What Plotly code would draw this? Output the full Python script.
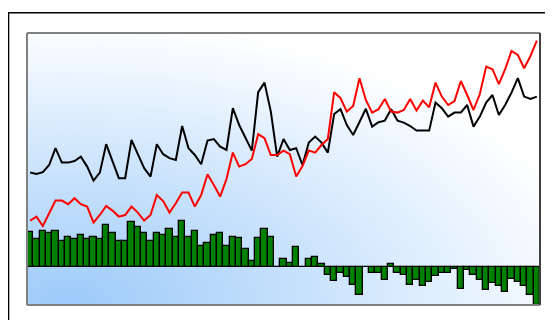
import base64
import plotly.graph_objects as go

# values (81 periods)
periods = list(range(81))

black_series = [
    47.2, 46.5, 47.4, 51.0, 59.4, 52.2, 52.2, 53.0, 55.2, 50.2,
    43.2, 47.2, 61.4, 52.7, 44.4, 44.4, 63.5, 56.4, 49.4, 45.2,
    61.4, 56.4, 54.4, 53.5, 70.5, 59.4, 56.0, 51.4, 63.2, 64.0,
    60.2, 58.5, 79.4, 71.0, 64.9, 58.2, 87.4, 92.2, 77.7, 55.2,
    64.0, 58.5, 59.4, 51.0, 62.2, 65.2, 62.2, 57.2, 76.5, 78.9,
    71.0, 66.0, 72.5, 79.1, 70.2, 72.4, 73.2, 78.9, 73.2, 72.2,
    70.5, 68.2, 68.2, 68.2, 82.2, 79.4, 75.2, 77.2, 77.2, 81.0,
    70.2, 75.2, 82.2, 86.0, 76.0, 81.0, 87.2, 94.4, 85.2, 84.0,
    85.2,
]

red_series = [
    23.2, 25.2, 20.5, 26.5, 33.2, 33.2, 31.4, 34.4, 31.4, 30.2,
    22.2, 26.0, 30.5, 28.2, 25.2, 26.0, 30.2, 27.2, 23.2, 26.0,
    36.0, 33.0, 27.2, 31.9, 37.2, 37.2, 30.2, 36.0, 46.4, 41.0,
    35.2, 44.0, 57.2, 50.2, 51.4, 54.0, 66.4, 64.4, 56.0, 56.0,
    58.2, 56.4, 45.2, 50.5, 58.2, 57.2, 61.0, 64.0, 87.4, 84.4,
    77.7, 80.5, 94.4, 83.5, 77.2, 78.9, 84.0, 77.7, 77.2, 78.5,
    84.0, 78.2, 83.2, 79.9, 92.2, 85.2, 81.0, 83.0, 93.0, 86.0,
    78.5, 86.5, 100.2, 98.9, 91.4, 98.9, 108.0, 106.0, 99.4, 105.5,
    113.2,
]

diff_bars = [
    17.4, 14.0, 18.2, 17.0, 18.2, 13.0, 15.2, 14.2, 16.2, 14.0,
    15.2, 14.2, 21.2, 17.0, 13.0, 13.0, 22.4, 20.2, 17.0, 13.0,
    17.0, 16.0, 19.0, 15.2, 23.2, 15.2, 18.2, 10.4, 12.0, 16.2,
    17.2, 10.4, 15.2, 14.4, 9.2, 3.2, 14.4, 19.2, 15.2, 0.0,
    4.0, 1.8, 10.2, 0.0, 4.0, 5.0, 1.4, -3.8, -6.9, -3.0,
    -5.2, -8.8, -13.8, 0.0, -3.2, -2.8, -6.7, 1.4, -2.8, -3.8,
    -9.2, -6.5, -9.7, -7.4, -4.4, -3.0, -3.0, -1.2, -11.1, -1.4,
    -4.2, -6.7, -11.5, -8.0, -9.4, -12.4, -6.1, -7.4, -9.7, -13.8,
    -19.0,
]

fig = go.Figure()
fig.add_trace(go.Bar(x=periods, y=diff_bars, marker=dict(color="#008000", line=dict(color="black", width=1.3)),
                     showlegend=False))
fig.add_trace(go.Scatter(x=periods, y=black_series, mode="lines", line=dict(color="black", width=2),
                         showlegend=False))
fig.add_trace(go.Scatter(x=periods, y=red_series, mode="lines", line=dict(color="red", width=2),
                         showlegend=False))

# radial blue -> white background behind the plot area
svg = (
    "<svg xmlns='http://www.w3.org/2000/svg' width='513' height='272' preserveAspectRatio='none'>"
    "<defs><radialGradient id='g' cx='0.08' cy='1' r='1.05'>"
    "<stop offset='0' stop-color='#9ccaf9'/><stop offset='1' stop-color='#ffffff'/>"
    "</radialGradient></defs><rect width='513' height='272' fill='url(#g)'/></svg>"
)
bg_src = "data:image/svg+xml;base64," + base64.b64encode(svg.encode()).decode()

fig.update_layout(
    width=553, height=320,
    margin=dict(l=19, r=21, t=25, b=23),
    paper_bgcolor="white",
    plot_bgcolor="rgba(0,0,0,0)",
    bargap=0,
    xaxis=dict(range=[-0.5, 80.5], visible=False),
    yaxis=dict(range=[-19, 117], visible=False),
    images=[dict(source=bg_src, xref="paper", yref="paper", x=0, y=1, sizex=1, sizey=1,
                 sizing="stretch", xanchor="left", yanchor="top", layer="below")],
    shapes=[
        # outer frame
        dict(type="rect", xref="paper", yref="paper", x0=-0.036, y0=-0.12, x1=1.06, y1=1.074,
             line=dict(color="black", width=1.5)),
        # plot border
        dict(type="line", xref="paper", yref="paper", x0=0, y0=1, x1=1, y1=1, line=dict(color="#808080", width=2)),
        dict(type="line", xref="paper", yref="paper", x0=0, y0=0, x1=0, y1=1, line=dict(color="#808080", width=2)),
        dict(type="line", xref="paper", yref="paper", x0=0, y0=0, x1=1, y1=0, line=dict(color="#808080", width=2)),
        dict(type="line", xref="paper", yref="paper", x0=1, y0=0, x1=1, y1=1, line=dict(color="#404040", width=2)),
    ],
)

fig.write_html("out.html")
